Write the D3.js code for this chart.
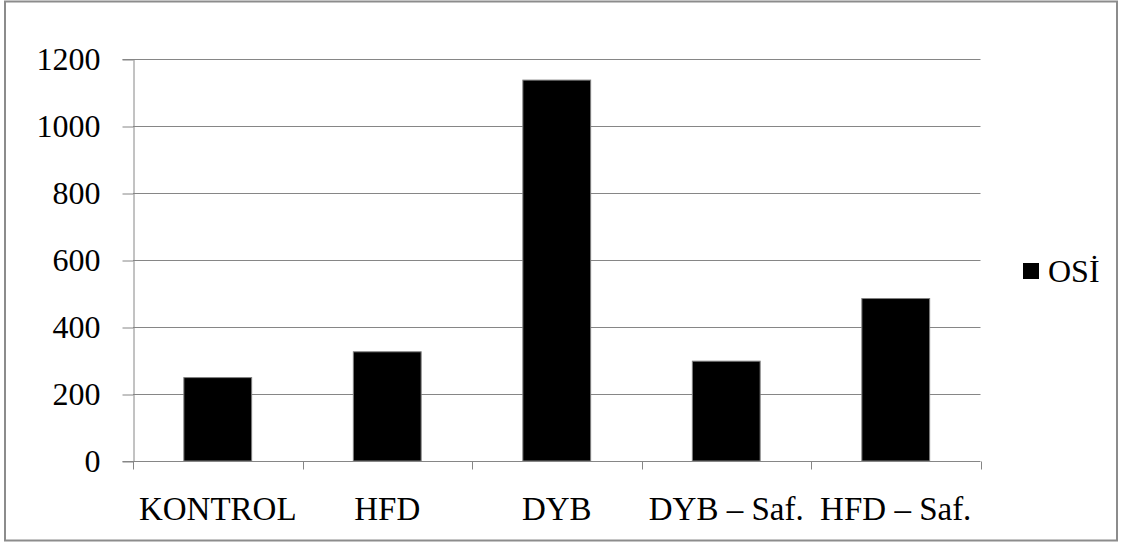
<!DOCTYPE html>
<html>
<head>
<meta charset="utf-8">
<script src="https://cdn.jsdelivr.net/npm/d3@7"></script>
<style>
  html, body { margin: 0; padding: 0; background: #fff; }
  svg { display: block; }
</style>
</head>
<body>
<svg id="chart" width="1127" height="545"></svg>
<script>
// OSİ per group
const categories = ["KONTROL", "HFD", "DYB", "DYB – Saf.", "HFD – Saf."];
const osiValues = [249, 326, 1137, 298, 485];
const yTicks = [0, 200, 400, 600, 800, 1000, 1200];
const seriesName = "OSİ";

const FONT = "Liberation Serif";
const svg = d3.select("#chart");
const gridColor = "#868686";

// outer frame
svg.append("rect")
  .attr("x", 5).attr("y", 1.5)
  .attr("width", 1112).attr("height", 539)
  .attr("fill", "#fff")
  .attr("stroke", "#8c8c8c")
  .attr("stroke-width", 2);

const plot = { left: 133, right: 980.5, top: 59, bottom: 461 };

const x = d3.scaleBand()
  .domain(categories)
  .range([plot.left, plot.right])
  .padding(0);

const y = d3.scaleLinear()
  .domain([0, 1200])
  .range([plot.bottom, plot.top]);

// horizontal gridlines
svg.append("g")
  .selectAll("line")
  .data(yTicks.filter(d => d > 0))
  .join("line")
  .attr("x1", plot.left).attr("x2", plot.right)
  .attr("y1", d => Math.round(y(d)) + 0.5)
  .attr("y2", d => Math.round(y(d)) + 0.5)
  .attr("stroke", gridColor)
  .attr("stroke-width", 1);

// bars
const barW = x.bandwidth() * 0.4;
svg.append("g")
  .selectAll("rect")
  .data(categories.map((c, i) => ({ c, v: osiValues[i] })))
  .join("rect")
  .attr("x", d => x(d.c) + (x.bandwidth() - barW) / 2)
  .attr("y", d => y(d.v))
  .attr("width", barW)
  .attr("height", d => y(0) - y(d.v))
  .attr("fill", "#000")
  .attr("stroke", "#7f7f7f")
  .attr("stroke-width", 1);

// y axis
const yAxis = d3.axisLeft(y)
  .tickValues(yTicks)
  .tickSize(11)
  .tickPadding(22)
  .tickFormat(d3.format("d"));
const gy = svg.append("g")
  .attr("transform", `translate(${plot.left + 0.5},0)`)
  .call(yAxis);
gy.attr("font-family", FONT).attr("font-size", 32);
gy.select(".domain").attr("stroke", gridColor);
gy.selectAll(".tick line").attr("stroke", gridColor)
  .attr("transform", d => `translate(0,${Math.round(y(d)) + 0.5 - y(d)})`);
gy.selectAll(".tick text")
  .attr("fill", "#000")
  .attr("dy", "0.33em");

// x axis with category boundary ticks
const gx = svg.append("g")
  .attr("transform", `translate(0,${Math.round(plot.bottom) + 0.5})`);
gx.append("line")
  .attr("x1", plot.left).attr("x2", plot.right)
  .attr("stroke", gridColor);
const bounds = categories.map(c => x(c)).concat([plot.right]);
gx.selectAll("line.tk")
  .data(bounds)
  .join("line")
  .attr("class", "tk")
  .attr("x1", d => Math.round(d) + 0.5).attr("x2", d => Math.round(d) + 0.5)
  .attr("y1", 0).attr("y2", 8)
  .attr("stroke", gridColor);
gx.selectAll("text")
  .data(categories)
  .join("text")
  .attr("x", d => x(d) + x.bandwidth() / 2)
  .attr("y", 58)
  .attr("text-anchor", "middle")
  .attr("font-family", FONT)
  .attr("font-size", 33)
  .text(d => d);

// legend
const lg = svg.append("g").attr("transform", "translate(1023,263)");
lg.append("rect")
  .attr("width", 16).attr("height", 16)
  .attr("fill", "#000");
lg.append("text")
  .attr("x", 25).attr("y", 19)
  .attr("font-family", FONT)
  .attr("font-size", 32)
  .text(seriesName);
</script>
</body>
</html>
